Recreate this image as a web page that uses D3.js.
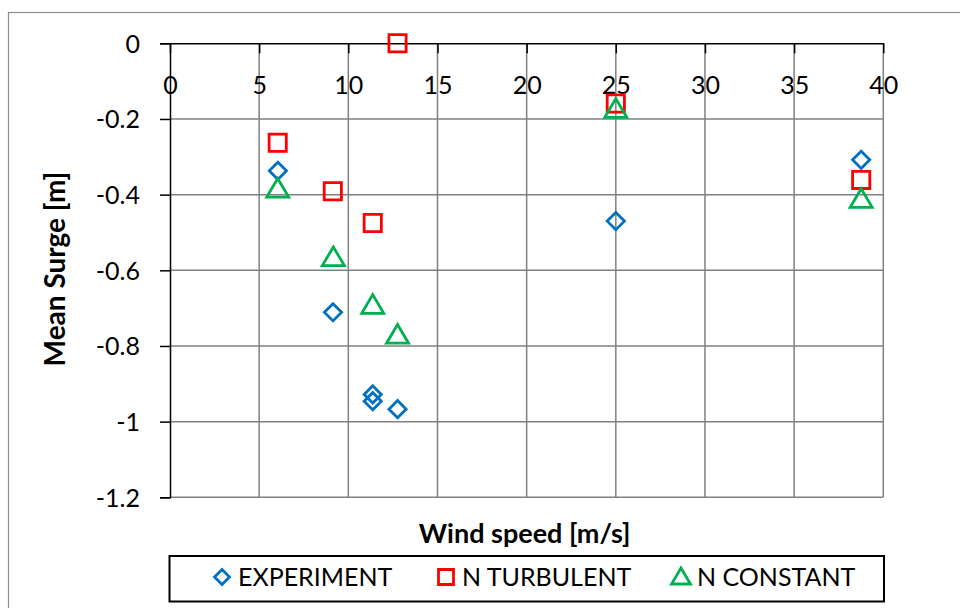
<!DOCTYPE html>
<meta charset="utf-8">
<script src="https://d3js.org/d3.v7.min.js"></script>
<style>
    body { margin: 0; background: #fff; }
    text { font-family: Lato, "Open Sans", sans-serif; fill: #000; }
</style>
<div id="vis"></div>
<script>
    // data
    var windSpeed  = [6.05, 9.14, 11.37, 11.37, 12.76, 25.0, 38.76];
    var experiment = [-0.337, -0.711, -0.928, -0.946, -0.967, -0.470, -0.308];
    var turbX      = [6.04, 9.13, 11.37, 12.76, 25.0, 38.76];
    var turbulent  = [-0.263, -0.391, -0.475, 0.0, -0.159, -0.361];
    var constX     = [6.04, 9.16, 11.37, 12.76, 25.0, 38.76];
    var constant   = [-0.385, -0.566, -0.692, -0.771, -0.174, -0.412];
    var xTicks = [0, 5, 10, 15, 20, 25, 30, 35, 40];
    var yTicks = [0, -0.2, -0.4, -0.6, -0.8, -1, -1.2];
    var seriesNames = ["EXPERIMENT", "N TURBULENT", "N CONSTANT"];
    var seriesColors = ["#0070C0", "#FF0000", "#00B050"];

    var W = 960, H = 608;
    var pl = 170, pr = 883.3, pt = 43.3, pb = 497.3;

    var svg = d3.select("#vis").append("svg")
        .attr("width", W).attr("height", H);

    // outer chart frame (only top/left visible)
    svg.append("rect")
        .attr("x", 8.5).attr("y", 12.5)
        .attr("width", 960).attr("height", 620)
        .attr("fill", "none").attr("stroke", "#8c8c8c").attr("stroke-width", 1.2);

    var x = d3.scaleLinear().domain([0, 40]).range([pl, pr]);
    var y = d3.scaleLinear().domain([-1.2, 0]).range([pb, pt]);

    // gridlines
    var grid = svg.append("g").attr("stroke", "#808080").attr("stroke-width", 1.5);
    grid.selectAll("line.v").data(xTicks.slice(1)).enter().append("line")
        .attr("x1", d => x(d)).attr("x2", d => x(d))
        .attr("y1", pt).attr("y2", pb);
    grid.selectAll("line.h").data(yTicks.slice(1)).enter().append("line")
        .attr("x1", pl).attr("x2", pr)
        .attr("y1", d => y(d)).attr("y2", d => y(d));

    // y axis (plain hyphen minus like the original)
    var yAxis = svg.append("g")
        .attr("transform", "translate(" + pl + ",0)")
        .call(d3.axisLeft(y).tickValues(yTicks).tickSize(10).tickPadding(20)
            .tickFormat(d => String(+d.toFixed(1))));
    yAxis.select(".domain").attr("stroke", "#000").attr("stroke-width", 1.5);
    yAxis.selectAll(".tick line").attr("stroke", "#000").attr("stroke-width", 1.5);
    yAxis.selectAll(".tick text").attr("font-size", 25).attr("font-family", "Lato")
        .attr("dy", "0.36em").attr("fill", "#000");

    // x axis along y = 0, ticks pointing down into the plot
    var xAxis = svg.append("g")
        .attr("transform", "translate(0," + y(0) + ")")
        .call(d3.axisTop(x).tickValues(xTicks).tickSize(-10).tickSizeOuter(0));
    xAxis.select(".domain").attr("stroke", "#000").attr("stroke-width", 1.5);
    xAxis.selectAll(".tick line").attr("stroke", "#000").attr("stroke-width", 1.5);
    xAxis.selectAll(".tick text").attr("font-size", 25).attr("font-family", "Lato")
        .attr("fill", "#000").attr("y", 51).attr("dy", 0);

    // axis titles
    svg.append("text")
        .attr("x", (pl + pr) / 2 - 2).attr("y", 543)
        .attr("text-anchor", "middle").attr("font-weight", "bold").attr("font-size", 27)
        .text("Wind speed [m/s]");
    svg.append("text")
        .attr("transform", "translate(65," + 269 + ") rotate(-90)")
        .attr("text-anchor", "middle").attr("font-weight", "bold").attr("font-size", 28)
        .text("Mean Surge [m]");

    // marker shapes
    function diamond(s) { return "M0," + (-s) + "L" + s + ",0L0," + s + "L" + (-s) + ",0Z"; }
    function square(s) { return "M" + (-s) + "," + (-s) + "H" + s + "V" + s + "H" + (-s) + "Z"; }
    function triangle(s) { return "M0," + (-s) + "L" + (s * 1.05) + "," + (s * 0.78) + "L" + (-s * 1.05) + "," + (s * 0.78) + "Z"; }
    var shapes = [diamond(8.6), square(8.6), triangle(10.5)];

    var series = [
        { xs: windSpeed, ys: experiment },
        { xs: turbX, ys: turbulent },
        { xs: constX, ys: constant }
    ];
    series.forEach(function (s, i) {
        svg.append("g").selectAll("path")
            .data(d3.zip(s.xs, s.ys)).enter().append("path")
            .attr("d", shapes[i])
            .attr("transform", d => "translate(" + x(d[0]) + "," + y(d[1]) + ")")
            .attr("fill", "none").attr("stroke", seriesColors[i]).attr("stroke-width", 2.8);
    });

    // legend
    var lg = svg.append("g");
    lg.append("rect")
        .attr("x", 169.5).attr("y", 556).attr("width", 714.5).attr("height", 45.5)
        .attr("fill", "#fff").attr("stroke", "#000").attr("stroke-width", 2);
    var legX = [222, 446, 681];
    var legShapes = [diamond(7.5), square(7.5), triangle(9)];
    seriesNames.forEach(function (n, i) {
        lg.append("path").attr("d", legShapes[i])
            .attr("transform", "translate(" + legX[i] + ",577)")
            .attr("fill", "none").attr("stroke", seriesColors[i]).attr("stroke-width", 2.8);
        lg.append("text").attr("x", legX[i] + 16).attr("y", 586)
            .attr("font-size", 25).text(n);
    });
</script>
